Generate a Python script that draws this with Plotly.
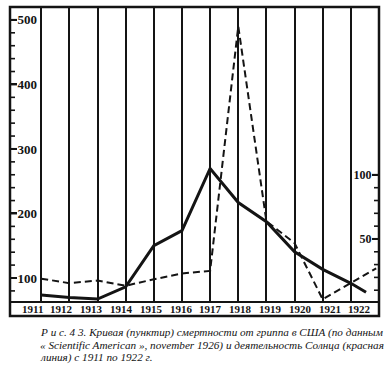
import plotly.graph_objects as go

# Data
years = [1911, 1912, 1913, 1914, 1915, 1916, 1917, 1918, 1919, 1920, 1921, 1922]
year_labels = [str(y) for y in years]

# Influenza mortality (dashed line, left axis)
flu_years = [1911, 1912, 1913, 1914, 1915, 1916, 1917, 1918, 1919, 1920, 1921, 1922.9]
flu_values = [99, 92, 96, 88, 98, 107, 111, 490, 188, 154, 67, 115]

# Solar activity (solid line, right axis)
sun_years = [1911, 1912, 1913, 1914, 1915, 1916, 1917, 1918, 1919, 1920, 1921, 1922, 1922.54]
sun_values = [6.3, 4.4, 3.1, 12.7, 44.8, 56.5, 105, 78.4, 63.5, 40, 26.3, 15.4, 8.4]

left_ticks = [100, 200, 300, 400, 500]
left_minor = [80, 120, 140, 160, 180, 220, 240, 260, 280, 320, 340, 360, 380,
              420, 440, 460, 480, 520]
right_ticks = [50, 100]
right_minor = [10, 20, 30, 40, 60, 70, 80, 90]

caption = [
    "Р и с. 4 3. Кривая (пунктир) смертности от гриппа в США (по данным",
    "« Scientific American », november 1926) и деятельность Солнца (красная",
    "линия) с 1911 по 1922 г.",
]

INK = "#141414"
SERIF = "Liberation Serif, DejaVu Serif, serif"

fig = go.Figure()
fig.add_trace(go.Scatter(x=flu_years, y=flu_values, mode="lines",
                         line=dict(color=INK, width=2, dash="7px,4px"),
                         showlegend=False, hoverinfo="skip"))
fig.add_trace(go.Scatter(x=sun_years, y=sun_values, mode="lines", yaxis="y2",
                         line=dict(color=INK, width=3),
                         showlegend=False, hoverinfo="skip"))
# carrier for the label axis
fig.add_trace(go.Scatter(x=years, y=[None] * len(years), xaxis="x2", mode="lines",
                         showlegend=False, hoverinfo="skip"))

W, H = 392, 374
ml, mr, mt, mb = 10, 13, 7, 72
ph = H - mt - mb
pw = W - ml - mr

fig.update_layout(
    width=W, height=H,
    margin=dict(l=ml, r=mr, t=mt, b=mb, pad=0),
    paper_bgcolor="white", plot_bgcolor="white",
    xaxis=dict(range=[1909.89, 1923.0], tickvals=years, showticklabels=False,
               ticks="", showgrid=True, gridcolor=INK, gridwidth=1.5,
               zeroline=False, showline=False, fixedrange=True),
    xaxis2=dict(overlaying="x", anchor="y", side="bottom",
                range=[1910.26, 1922.64], showticklabels=False,
                ticks="", showgrid=False, zeroline=False, showline=False),
    yaxis=dict(range=[62.8, 520], tickvals=left_ticks, ticks="inside",
               ticklen=7, tickwidth=2, tickcolor=INK,
               ticklabelposition="inside",
               tickfont=dict(family=SERIF, size=13, color=INK, weight="bold"),
               showgrid=False, zeroline=False, showline=False),
    yaxis2=dict(range=[0.8, 231], overlaying="y", side="right",
                tickvals=right_ticks, ticks="inside", ticklen=7, tickwidth=2,
                tickcolor=INK, ticklabelposition="inside",
                tickfont=dict(family=SERIF, size=12, color=INK, weight="bold"),
                showgrid=False, zeroline=False, showline=False),
)

# tick marks drawn on the axes' own scales
def add_ticks(values, yref, length_px, width, right=False):
    frac = length_px / pw
    for v in values:
        x0, x1 = (1 - frac, 1) if right else (0, frac)
        fig.add_shape(type="line", xref="paper", yref=yref, x0=x0, x1=x1,
                      y0=v, y1=v, line=dict(color=INK, width=width), layer="above")

add_ticks(left_ticks, "y", 7, 2)
add_ticks(left_minor, "y", 5, 1.6)
add_ticks(right_ticks, "y2", 7, 2, right=True)
add_ticks(right_minor, "y2", 5, 1.6, right=True)

box_h = 14 / ph
# outer frame (plot + label strip)
fig.add_shape(type="rect", xref="paper", yref="paper", x0=0, x1=1, y0=-box_h, y1=1,
              line=dict(color=INK, width=2.5), fillcolor="rgba(0,0,0,0)", layer="above")
# line between plot and label strip
fig.add_shape(type="line", xref="paper", yref="paper", x0=0, x1=1, y0=0, y1=0,
              line=dict(color=INK, width=2), layer="above")

# year labels in the strip
for yr, lab in zip(years, year_labels):
    fig.add_annotation(text="<b>" + lab + "</b>", xref="x2", yref="paper",
                       x=yr, y=-box_h / 2, xanchor="center", yanchor="middle",
                       showarrow=False,
                       font=dict(family=SERIF, size=11, color=INK))

cap_y = [332, 345, 357]
for txt, yy in zip(caption, cap_y):
    fig.add_annotation(text="<i>" + txt + "</i>", xref="paper", yref="paper",
                       x=(38 - ml) / pw, y=(H - mb - yy) / ph,
                       xanchor="left", yanchor="middle", showarrow=False,
                       font=dict(family=SERIF, size=11.2, color=INK))

fig.write_html("out.html", config={"displayModeBar": False},
               post_script="document.body.style.margin='0';")
